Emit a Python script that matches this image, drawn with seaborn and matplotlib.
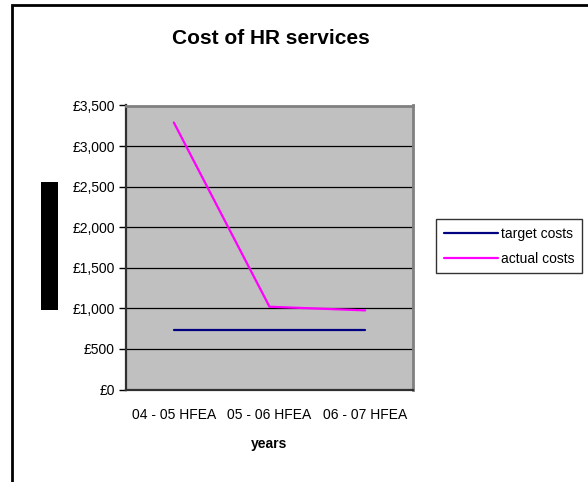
import matplotlib
matplotlib.use("Agg")
import matplotlib.pyplot as plt
from matplotlib.patches import Rectangle
from matplotlib.lines import Line2D
import seaborn as sns
import pandas as pd

years = ["04 - 05 HFEA", "05 - 06 HFEA", "06 - 07 HFEA"]
target_costs = [735, 735, 735]
actual_costs = [3290, 1020, 975]
series_names = ["target costs", "actual costs"]
y_ticks = [0, 500, 1000, 1500, 2000, 2500, 3000, 3500]

sns.set_style("white")
plt.rcParams["font.family"] = ["Liberation Sans", "DejaVu Sans"]
plt.rcParams["text.color"] = "black"
plt.rcParams["axes.labelcolor"] = "black"
plt.rcParams["xtick.color"] = "black"
plt.rcParams["ytick.color"] = "black"

df = pd.DataFrame({
    "year": years * 2,
    "cost": target_costs + actual_costs,
    "series": [series_names[0]] * 3 + [series_names[1]] * 3,
})

W, H = 588, 482
fig = plt.figure(figsize=(W / 100, H / 100), dpi=100)
ax = fig.add_axes([126 / W, 1 - 389.5 / H, (413 - 126) / W, (389.5 - 105.5) / H])
ax.set_facecolor("#C0C0C0")

palette = {series_names[0]: "#000080", series_names[1]: "#FF00FF"}
sns.lineplot(data=df, x="year", y="cost", hue="series", palette=palette,
             linewidth=1.6, ax=ax, legend=False, sort=False)

ax.set_xlim(-0.5, 2.5)
ax.set_ylim(0, 3500)
ax.set_yticks(y_ticks)
ax.set_yticklabels([f"£{v:,}" for v in y_ticks], fontsize=10)
ax.yaxis.grid(True, color="black", linewidth=0.9)
ax.set_axisbelow(True)

ax.set_xticks([0, 1, 2])
ax.set_xticklabels(years, fontsize=10)
ax.tick_params(axis="x", length=0, pad=13)
ax.set_xticks([-0.5, 0.5, 1.5, 2.5], minor=True)
ax.tick_params(axis="x", which="minor", length=5, width=1, direction="out", color="black")
ax.tick_params(axis="y", length=5, width=1, direction="out", color="black", pad=3, left=True)

for s in ["top", "right"]:
    ax.spines[s].set_color("#808080")
    ax.spines[s].set_linewidth(2)
for s in ["left", "bottom"]:
    ax.spines[s].set_color("#303030")
    ax.spines[s].set_linewidth(1.6)

ax.set_xlabel("years", fontsize=10, fontweight="bold", labelpad=11)
ax.set_ylabel("")

fig.text(271 / W, 1 - 38 / H, "Cost of HR services", ha="center", va="center",
         fontsize=15, fontweight="bold")

# y-axis label block
fig.patches.append(Rectangle((41 / W, 1 - 310 / H), 17 / W, 128 / H,
                             transform=fig.transFigure, facecolor="black",
                             edgecolor="none"))
# chart border (clipped at right and bottom)
fig.patches.append(Rectangle((12 / W, -0.1), 1.0, 1 - 5 / H + 0.1,
                             transform=fig.transFigure, facecolor="none",
                             edgecolor="black", linewidth=2))

handles = [Line2D([], [], color=palette[n], linewidth=1.6) for n in series_names]
leg = fig.legend(handles, series_names, loc="upper left",
                 bbox_to_anchor=(436 / W, 1 - 219 / H), bbox_transform=fig.transFigure,
                 fontsize=10, frameon=True, fancybox=False, handlelength=3.9,
                 handletextpad=0.2, borderpad=0.55, labelspacing=0.8, borderaxespad=0)
leg.get_frame().set_edgecolor("black")
leg.get_frame().set_linewidth(1)

fig.savefig("out.png", dpi=100)
